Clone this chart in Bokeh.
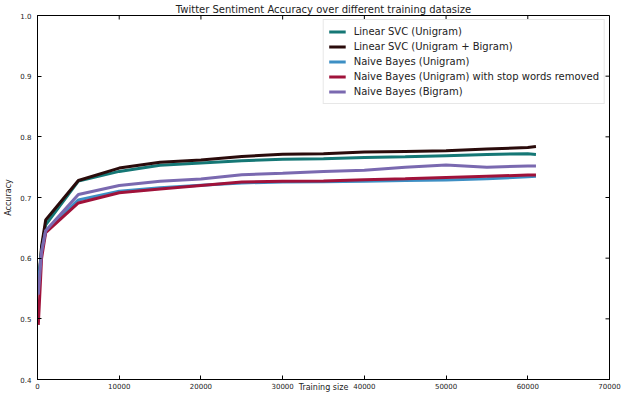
import math
from bokeh.plotting import figure
from bokeh.models import Range1d, Legend, LegendItem, FixedTicker, NumeralTickFormatter
from bokeh.embed import file_html
from bokeh.resources import INLINE

# ---- data ----
train_size = [100, 500, 1000, 5000, 10000, 15000, 20000, 25000, 30000, 35000,
              40000, 45000, 50000, 55000, 60000, 61000]
svc_uni = [0.55, 0.615, 0.655, 0.727, 0.743, 0.753, 0.757, 0.7605, 0.763, 0.764,
           0.766, 0.767, 0.769, 0.771, 0.772, 0.771]
svc_uni_bi = [0.55, 0.62, 0.663, 0.728, 0.7485, 0.758, 0.762, 0.7676, 0.7714, 0.772,
              0.775, 0.776, 0.777, 0.780, 0.7824, 0.784]
nb_uni = [0.56, 0.61, 0.645, 0.696, 0.7105, 0.716, 0.720, 0.724, 0.7255, 0.726,
          0.7268, 0.728, 0.729, 0.731, 0.734, 0.735]
nb_uni_stop = [0.49, 0.60, 0.642, 0.691, 0.7077, 0.714, 0.7198, 0.7257, 0.7268, 0.727,
               0.7294, 0.731, 0.733, 0.735, 0.737, 0.737]
nb_bi = [0.54, 0.61, 0.645, 0.705, 0.7198, 0.7268, 0.7306, 0.7376, 0.740, 0.743,
         0.745, 0.750, 0.7535, 0.750, 0.752, 0.752]

series_names = ["Linear SVC (Unigram)", "Linear SVC (Unigram + Bigram)",
                "Naive Bayes (Unigram)", "Naive Bayes (Unigram) with stop words removed",
                "Naive Bayes (Bigram)"]
series_values = [svc_uni, svc_uni_bi, nb_uni, nb_uni_stop, nb_bi]
series_colors = ["#157775", "#2a0b0b", "#3d8fc4", "#a0123a", "#7a69b0"]

x_ticks = [0, 10000, 20000, 30000, 40000, 50000, 60000, 70000]
y_ticks = [0.4, 0.5, 0.6, 0.7, 0.8, 0.9, 1.0]
x_min, x_max = 0, 70000
y_min, y_max = 0.4, 1.0

FONT = "DejaVu Sans"

p = figure(width=624, height=394, output_backend="svg", toolbar_location=None,
           x_range=Range1d(x_min, x_max), y_range=Range1d(y_min, y_max),
           title="Twitter Sentiment Accuracy over different training datasize",
           min_border_left=37, min_border_right=15, min_border_top=15, min_border_bottom=12,
           background_fill_color="white", border_fill_color="white")

p.title.text_font = FONT
p.title.text_font_size = "10px"
p.title.text_font_style = "normal"
p.title.align = "center"
p.title.text_color = "#222222"
p.title.standoff = 2

p.xgrid.visible = False
p.ygrid.visible = False
p.outline_line_color = "black"
p.outline_line_width = 1

for ax in (p.xaxis[0], p.yaxis[0]):
    ax.major_tick_in = 4
    ax.major_tick_out = 0
    ax.minor_tick_line_color = None
    ax.major_label_text_font = FONT
    ax.major_label_text_font_size = "7px"
    ax.major_label_text_color = "#222222"
    ax.axis_line_color = "black"
    ax.major_tick_line_color = "black"
    ax.axis_label_text_font = FONT
    ax.axis_label_text_font_size = "8px"
    ax.axis_label_text_font_style = "normal"
    ax.axis_label_text_color = "#222222"

p.xaxis[0].ticker = FixedTicker(ticks=x_ticks)
p.yaxis[0].ticker = FixedTicker(ticks=y_ticks)
p.xaxis[0].major_label_standoff = 3
p.yaxis[0].major_label_standoff = 6
p.xaxis[0].formatter.use_scientific = False
p.yaxis[0].formatter = NumeralTickFormatter(format="0.0")
p.yaxis[0].axis_label = "Accuracy"
p.yaxis[0].axis_label_standoff = 4
p.xaxis[0].axis_label = "Training size"
p.xaxis[0].axis_label_standoff = -9

# mirrored inward tick marks on the top and right edges (matplotlib classic style)
p.ray(x=x_ticks, y=[y_max] * len(x_ticks), length=4, length_units="screen",
      angle=-math.pi / 2, line_color="black", line_width=1)
p.ray(x=[x_max] * len(y_ticks), y=y_ticks, length=4, length_units="screen",
      angle=math.pi, line_color="black", line_width=1)

items = []
for name, vals, col in zip(series_names, series_values, series_colors):
    r = p.line(train_size, vals, line_color=col, line_width=3)
    items.append(LegendItem(label=name, renderers=[r]))

legend = Legend(items=items, location="top_right", margin=4, padding=5, spacing=2,
                label_height=13, glyph_height=13, glyph_width=17, label_standoff=8,
                label_text_font=FONT, label_text_font_size="10px", label_text_color="#222222",
                border_line_color="#cfcfcf", background_fill_color="white",
                background_fill_alpha=1.0)
p.add_layout(legend, "center")

open("out.html", "w").write(file_html(p, INLINE))
